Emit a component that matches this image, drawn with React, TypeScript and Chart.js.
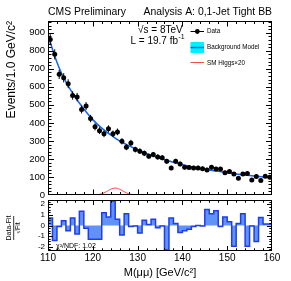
import React, { useEffect, useRef } from 'react';
import { Chart, registerables } from 'chart.js';

Chart.register(...registerables);

const FONT = '"Liberation Sans", Arial, Helvetica, sans-serif';

// ---- data ----
const massMin = 110;
const massMax = 160;
// counts per 1 GeV bin, bins 110-111 ... 159-160
const dataCounts = [
  863, 780, 669, 650, 617, 552, 543, 474, 493, 424,
  378, 357, 339, 367, 339, 350, 298, 265, 289, 252,
  243, 231, 215, 224, 211, 207, 187, 150, 187, 172,
  154, 152, 150, 150, 146, 139, 154, 144, 144, 124,
  130, 117, 93, 117, 119, 83, 102, 81, 104, 98,
];
// background fit at integer masses 110..160
const fitValues = [
  890, 808, 736, 676, 627, 584, 546, 510, 477, 446,
  418, 393, 371, 351, 333, 316, 300, 286, 274, 262,
  250, 240, 230, 220, 212, 204, 196, 189, 182, 175,
  169, 163, 157, 152, 147, 143, 139, 135, 131, 127,
  123, 120, 117, 114, 111, 108, 105, 102, 100, 98, 96,
];
// SM Higgs x20 at integer masses 110..160
const signalValues = [
  0, 0, 0, 0, 0, 0, 0, 0, 0, 0,
  0.5, 2, 7, 18, 32, 39, 32, 18, 7, 2,
  0.5, 0, 0, 0, 0, 0, 0, 0, 0, 0,
  0, 0, 0, 0, 0, 0, 0, 0, 0, 0,
  0, 0, 0, 0, 0, 0, 0, 0, 0, 0, 0,
];
// (Data-Fit)/sqrt(Fit) per bin
const ratioValues = [
  0.85, 0.7, -1.4, -0.1, 0.45, -0.5, 0.7, -0.8, 1.35, -0.25,
  -1.3, -1.3, -1.3, 1.2, 0.8, 2.3, 0.6, -0.9, 1.1, -0.1,
  -0.05, -0.7, 0.5, 0.1, 0.6, -0.2, -0.05, -2.3, 0.7, 0.2,
  -0.65, -0.5, -0.35, -0.1, 0.0, -0.05, 1.5, 1.1, 1.4, -0.1,
  0.8, 0.35, -1.95, 0.2, 1.1, -1.95, -0.05, -1.5, 0.75, 0.15,
];
const chi2Label = 'χ²/NDF: 1.02';
const titleLeft = 'CMS Preliminary';
const titleRight = 'Analysis A: 0,1-Jet Tight BB';
const legendLabels = ['Data', 'Background Model', 'SM Higgs×20'];

const BLUE = '#1464f0';
const RED = '#ff4a4a';
const CYAN = '#00f0ff';

type FrameCfg = {
  xMajor: number; xMinor: number; xMajLen: number; xMinLen: number;
  yMajor: number; yMinor: number; yMajLen: number; yMinLen: number;
};

function isMult(v: number, step: number) {
  const q = v / step;
  return Math.abs(q - Math.round(q)) < 1e-6;
}

function drawFrame(chart: any, c: FrameCfg) {
  const { ctx, chartArea: a } = chart;
  const xs = chart.scales.x;
  const ys = chart.scales.y;
  const L = Math.round(a.left) + 0.5;
  const R = Math.round(a.right) - 0.5;
  const T = Math.round(a.top) + 0.5;
  const B = Math.round(a.bottom) - 0.5;
  ctx.save();
  ctx.strokeStyle = '#000';
  ctx.lineWidth = 1;
  ctx.strokeRect(L, T, R - L, B - T);
  ctx.beginPath();
  const nx = Math.round((xs.max - xs.min) / c.xMinor);
  for (let i = 0; i <= nx; i++) {
    const v = xs.min + i * c.xMinor;
    let px = Math.round(xs.getPixelForValue(v)) + 0.5;
    px = Math.min(Math.max(px, L), R);
    const len = isMult(v - xs.min, c.xMajor) ? c.xMajLen : c.xMinLen;
    ctx.moveTo(px, B); ctx.lineTo(px, B - len);
    ctx.moveTo(px, T); ctx.lineTo(px, T + len);
  }
  const start = Math.ceil(ys.min / c.yMinor - 1e-9);
  const end = Math.floor(ys.max / c.yMinor + 1e-9);
  for (let k = start; k <= end; k++) {
    const v = k * c.yMinor;
    let py = Math.round(ys.getPixelForValue(v)) + 0.5;
    py = Math.min(Math.max(py, T), B);
    const len = isMult(v, c.yMajor) ? c.yMajLen : c.yMinLen;
    ctx.moveTo(L, py); ctx.lineTo(L + len, py);
    ctx.moveTo(R, py); ctx.lineTo(R - len, py);
  }
  ctx.stroke();
  ctx.restore();
}

const noPad = (s: any) => {
  s.paddingTop = 0;
  s.paddingBottom = 0;
  s.paddingLeft = 0;
  s.paddingRight = 0;
};

const topPlugin = {
  id: 'topDecor',
  afterDatasetsDraw(chart: any) {
    const { ctx } = chart;
    const xs = chart.scales.x;
    const ys = chart.scales.y;
    ctx.save();
    ctx.strokeStyle = '#000';
    ctx.lineWidth = 1;
    ctx.beginPath();
    dataCounts.forEach((v, i) => {
      const px = xs.getPixelForValue(massMin + 0.5 + i);
      const e = Math.sqrt(v);
      ctx.moveTo(px, ys.getPixelForValue(v - e));
      ctx.lineTo(px, ys.getPixelForValue(v + e));
    });
    ctx.stroke();
    ctx.restore();
  },
  afterDraw(chart: any) {
    drawFrame(chart, {
      xMajor: 10, xMinor: 2, xMajLen: 5, xMinLen: 2.5,
      yMajor: 100, yMinor: 20, yMajLen: 5.5, yMinLen: 3,
    });
    const { ctx } = chart;
    ctx.save();
    ctx.fillStyle = '#000';
    ctx.textBaseline = 'middle';
    ctx.font = `10.4px ${FONT}`;
    ctx.textAlign = 'left';
    ctx.fillText(titleLeft, 48, 12.5);
    ctx.textAlign = 'right';
    ctx.fillText(titleRight, 272, 12.5);
    ctx.textAlign = 'left';
    ctx.font = `10px ${FONT}`;
    ctx.fillText('√s = 8TeV', 138, 30.5);
    const lumi = 'L = 19.7 fb';
    ctx.fillText(lumi, 130.5, 41.5);
    const w = ctx.measureText(lumi).width;
    ctx.font = `7px ${FONT}`;
    ctx.fillText('-1', 130.5 + w + 0.5, 37.5);
    // legend
    ctx.font = `6.3px ${FONT}`;
    ctx.fillText(legendLabels[0], 207, 31.5);
    ctx.fillText(legendLabels[1], 207, 47.5);
    ctx.fillText(legendLabels[2], 207, 63);
    // data symbol
    ctx.strokeStyle = '#000';
    ctx.lineWidth = 1;
    ctx.beginPath();
    ctx.moveTo(190.5, 31.5); ctx.lineTo(204, 31.5);
    ctx.stroke();
    ctx.beginPath();
    ctx.arc(197.3, 31.5, 2.4, 0, Math.PI * 2);
    ctx.fillStyle = '#000';
    ctx.fill();
    // background model symbol
    ctx.fillStyle = CYAN;
    ctx.fillRect(190.5, 42, 13.5, 11);
    ctx.strokeStyle = BLUE;
    ctx.lineWidth = 1.5;
    ctx.beginPath();
    ctx.moveTo(190.5, 47.5); ctx.lineTo(204, 47.5);
    ctx.stroke();
    // signal symbol
    ctx.strokeStyle = RED;
    ctx.lineWidth = 1;
    ctx.beginPath();
    ctx.moveTo(190.5, 62.5); ctx.lineTo(204, 62.5);
    ctx.stroke();
    ctx.restore();
  },
};

const botPlugin = {
  id: 'botDecor',
  afterDraw(chart: any) {
    drawFrame(chart, {
      xMajor: 10, xMinor: 2, xMajLen: 4.5, xMinLen: 2.2,
      yMajor: 1, yMinor: 0.25, yMajLen: 4.5, yMinLen: 2.2,
    });
    const { ctx } = chart;
    ctx.save();
    ctx.fillStyle = '#000';
    ctx.textBaseline = 'middle';
    ctx.textAlign = 'left';
    ctx.font = `7px ${FONT}`;
    ctx.fillText(chi2Label, 56, 47.5);
    // rotated fraction title
    ctx.translate(13.5, 29);
    ctx.rotate(-Math.PI / 2);
    ctx.textAlign = 'center';
    ctx.font = `7px ${FONT}`;
    ctx.fillText('Data-Fit', 0, -4.2);
    ctx.fillText('√Fit', 0, 4.6);
    ctx.strokeStyle = '#000';
    ctx.lineWidth = 0.8;
    ctx.beginPath();
    ctx.moveTo(-12, 0.2); ctx.lineTo(12, 0.2);
    ctx.stroke();
    ctx.restore();
  },
};

export default function App() {
  const topRef = useRef<HTMLCanvasElement>(null);
  const botRef = useRef<HTMLCanvasElement>(null);

  useEffect(() => {
    Chart.defaults.font.family = FONT;
    Chart.defaults.color = '#000';

    const dataPts = dataCounts.map((v, i) => ({ x: massMin + 0.5 + i, y: v }));
    const fitPts = fitValues.map((v, i) => ({ x: massMin + i, y: v }));
    const sigPts = signalValues.map((v, i) => ({ x: massMin + i, y: v }));
    const ratioPts = ratioValues.map((v, i) => ({ x: massMin + i, y: v }));
    ratioPts.push({ x: massMax, y: ratioValues[ratioValues.length - 1] });

    const top = new Chart(topRef.current as HTMLCanvasElement, {
      type: 'scatter',
      data: {
        datasets: [
          {
            label: legendLabels[0],
            data: dataPts,
            pointRadius: 2.5,
            pointBackgroundColor: '#000',
            pointBorderWidth: 0,
            showLine: false,
          } as any,
          {
            type: 'line',
            label: legendLabels[1],
            data: fitPts,
            borderColor: BLUE,
            borderWidth: 1.5,
            pointRadius: 0,
            cubicInterpolationMode: 'monotone',
            fill: false,
          } as any,
          {
            type: 'line',
            label: legendLabels[2],
            data: sigPts,
            borderColor: RED,
            borderWidth: 1,
            pointRadius: 0,
            cubicInterpolationMode: 'monotone',
            fill: false,
          } as any,
        ],
      },
      options: {
        responsive: false,
        animation: false,
        devicePixelRatio: 1,
        layout: { padding: { top: 21, right: 19, bottom: 3, left: 0 } },
        plugins: { legend: { display: false }, tooltip: { enabled: false } },
        scales: {
          x: { type: 'linear', min: massMin, max: massMax, display: false },
          y: {
            type: 'linear',
            min: 0,
            max: 965,
            grid: { display: false, drawTicks: false },
            border: { display: false },
            ticks: { stepSize: 100, includeBounds: false, padding: 3, font: { size: 9.5 }, color: '#000' },
            title: {
              display: true,
              text: 'Events/1.0 GeV/c²',
              align: 'end',
              font: { size: 12 },
              padding: { top: 4, bottom: 0 },
              color: '#000',
            },
            afterFit: (s: any) => { s.width = 48; noPad(s); },
          } as any,
        },
      },
      plugins: [topPlugin],
    });

    const bot = new Chart(botRef.current as HTMLCanvasElement, {
      type: 'line',
      data: {
        datasets: [
          {
            data: ratioPts,
            stepped: 'after',
            fill: 'origin',
            backgroundColor: '#6093f5',
            borderColor: '#1f3cf0',
            borderWidth: 1.5,
            pointRadius: 0,
          } as any,
        ],
      },
      options: {
        responsive: false,
        animation: false,
        devicePixelRatio: 1,
        layout: { padding: { top: 1, right: 19, bottom: 0, left: 0 } },
        plugins: { legend: { display: false }, tooltip: { enabled: false } },
        scales: {
          x: {
            type: 'linear',
            min: massMin,
            max: massMax,
            grid: { display: false, drawTicks: false },
            border: { display: false },
            ticks: { stepSize: 10, padding: 1, font: { size: 10 }, color: '#000', maxRotation: 0 },
            title: {
              display: true,
              text: 'M(μμ) [GeV/c²]',
              font: { size: 11 },
              padding: { top: 0, bottom: 1.5 },
              color: '#000',
            },
            afterFit: (s: any) => { s.height = 30; noPad(s); },
          } as any,
          y: {
            type: 'linear',
            min: -2.4,
            max: 2.4,
            grid: { display: false, drawTicks: false },
            border: { display: false },
            ticks: { stepSize: 1, includeBounds: false, padding: 3, font: { size: 8 }, color: '#000' },
            afterFit: (s: any) => { s.width = 48; noPad(s); },
          } as any,
        },
      },
      plugins: [botPlugin],
    });

    return () => {
      top.destroy();
      bot.destroy();
    };
  }, []);

  return (
    <div style={{ position: 'absolute', left: 0, top: 0, width: 291, height: 281, background: '#fff' }}>
      <canvas
        ref={topRef}
        width={291}
        height={199}
        style={{ position: 'absolute', left: 0, top: 0, width: 291, height: 199 }}
      />
      <canvas
        ref={botRef}
        width={291}
        height={82}
        style={{ position: 'absolute', left: 0, top: 199, width: 291, height: 82 }}
      />
    </div>
  );
}
